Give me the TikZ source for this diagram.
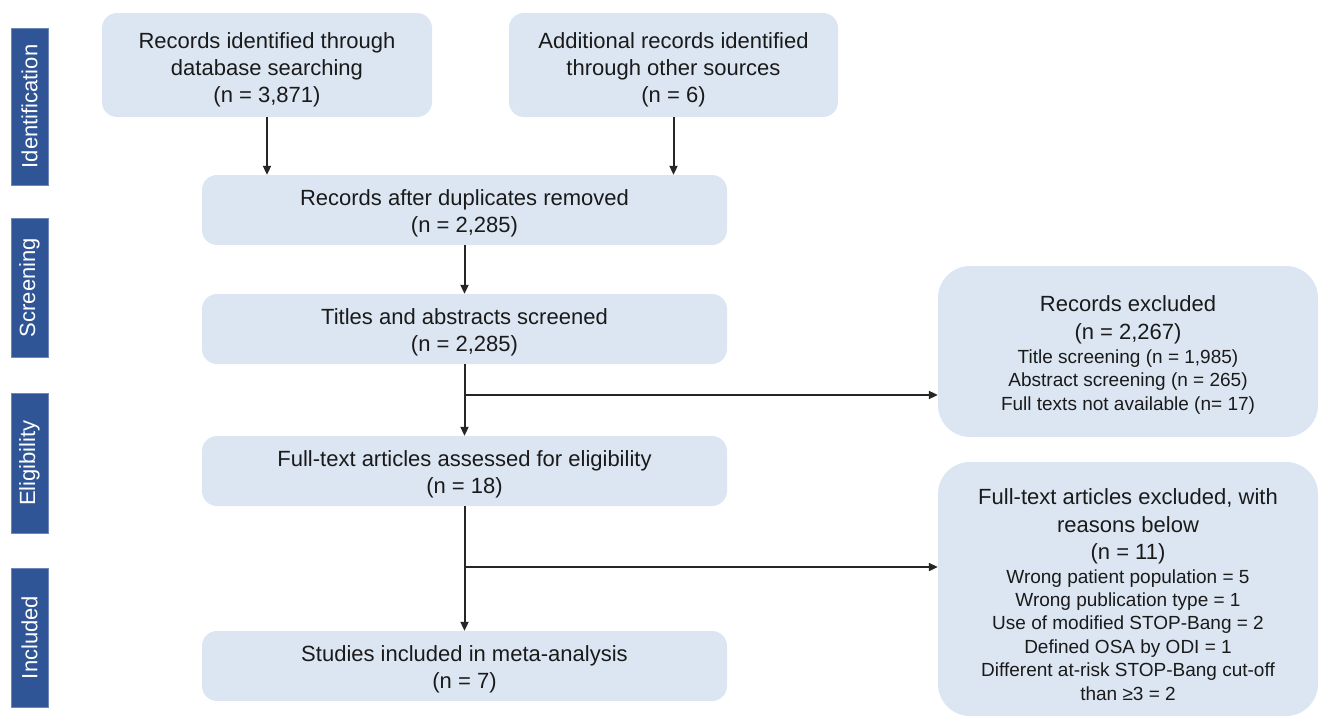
\documentclass[tikz,border=0pt]{standalone}
\usepackage{fontspec}
\setmainfont{Liberation Sans}
\usetikzlibrary{arrows.meta,calc}
\definecolor{boxfill}{HTML}{DCE6F2}
\definecolor{sidebar}{HTML}{2F5597}
\definecolor{txt}{HTML}{1A1A1A}
\definecolor{arr}{HTML}{262626}
\newcommand{\bigtxt}{\fontsize{22}{28}\selectfont\spaceskip=\fontdimen2\font\xspaceskip=\fontdimen2\font}
\newcommand{\smalltxt}{\fontsize{19}{23.4}\selectfont\spaceskip=\fontdimen2\font\xspaceskip=\fontdimen2\font}
\tikzset{
  flowbox/.style={fill=boxfill, rounded corners=15pt, inner sep=0pt},
  flowtext/.style={align=center, text=txt, font=\fontsize{22}{27}\selectfont, inner sep=0pt},
  sidebox/.style={fill=boxfill, rounded corners=32pt, inner sep=0pt},
  sidetext/.style={align=center, text=txt, font=\fontsize{22}{28}\selectfont, inner sep=0pt, text width=370pt},
  phase/.style={fill=sidebar, draw=sidebar!70!white, line width=0.8pt, text=white,
    font=\fontsize{22}{24}\selectfont, rotate=90, inner sep=0pt},
  link/.style={draw=arr, line width=2pt, -{Triangle[length=9pt,width=8pt]}}
}
\begin{document}
\begin{tikzpicture}[x=1pt,y=-1pt]
\useasboundingbox (0,0) rectangle (1320,716);
% phase bars
\node[phase, minimum width=157pt, minimum height=37pt] (p1) at (29.5,106.5) {Identification};
\node[phase, minimum width=139pt, minimum height=37pt] (p2) at (29.5,287.5) {Screening};
\node[phase, minimum width=140pt, minimum height=37pt] (p3) at (29.5,463) {Eligibility};
\node[phase, minimum width=139pt, minimum height=37pt] (p4) at (29.5,637.5) {Included};
% boxes
\node[flowbox, minimum width=330pt, minimum height=104pt] (a) at (267,65) {};
\node[flowtext] (ta) at ($(a.center)+(0,4.5)$) {Records identified through\\database searching\\(n = 3,871)};
\node[flowbox, minimum width=329pt, minimum height=104pt] (b) at (673.5,65) {};
\node[flowtext] (tb) at ($(b.center)+(0,4.5)$) {Additional records identified\\through other sources\\(n = 6)};
\node[flowbox, minimum width=525pt, minimum height=70pt] (c) at (464.5,210) {};
\node[flowtext] (tc) at ($(c.center)+(0,3.5)$) {Records after duplicates removed\\(n = 2,285)};
\node[flowbox, minimum width=525pt, minimum height=70pt] (d) at (464.5,329) {};
\node[flowtext] (td) at ($(d.center)+(0,3.5)$) {Titles and abstracts screened\\(n = 2,285)};
\node[flowbox, minimum width=525pt, minimum height=70pt] (e) at (464.5,471) {};
\node[flowtext] (te) at ($(e.center)+(0,3.5)$) {Full-text articles assessed for eligibility\\(n = 18)};
\node[flowbox, minimum width=525pt, minimum height=70pt] (f) at (464.5,666) {};
\node[flowtext] (tf) at ($(f.center)+(0,3.5)$) {Studies included in meta-analysis\\(n = 7)};
\node[sidebox, minimum width=380pt, minimum height=171pt] (r1) at (1128,351.5) {};
\node[sidetext] (tr1) at ($(r1.center)+(0,3.5)$)
  {{\bigtxt Records excluded\\(n = 2,267)\par}
   {\smalltxt Title screening (n = 1,985)\\Abstract screening (n = 265)\\Full texts not available (n= 17)\par}};
\node[sidebox, minimum width=380pt, minimum height=254pt] (r2) at (1128,589) {};
\node[sidetext] (tr2) at ($(r2.center)+(0,5.5)$)
  {{\bigtxt\baselineskip=27.5pt Full-text articles excluded, with\\reasons below\\(n = 11)\par}
   {\smalltxt Wrong patient population = 5\\Wrong publication type = 1\\Use of modified STOP-Bang = 2\\Defined OSA by ODI = 1\\Different at-risk STOP-Bang cut-off\\than ≥3 = 2\par}};
% connectors
\draw[link] (a.south) -- (a.south |- c.north);
\draw[link] (b.south) -- (b.south |- c.north);
\draw[link] (c.south) -- (d.north);
\draw[link] (d.south) -- (e.north);
\coordinate (j1) at ($(d.south)!0.43!(e.north)$);
\draw[link] (j1) -- (j1 -| r1.west);
\draw[link] (e.south) -- (f.north);
\coordinate (j2) at ($(e.south)!0.488!(f.north)$);
\draw[link] (j2) -- (j2 -| r2.west);
\end{tikzpicture}
\end{document}
